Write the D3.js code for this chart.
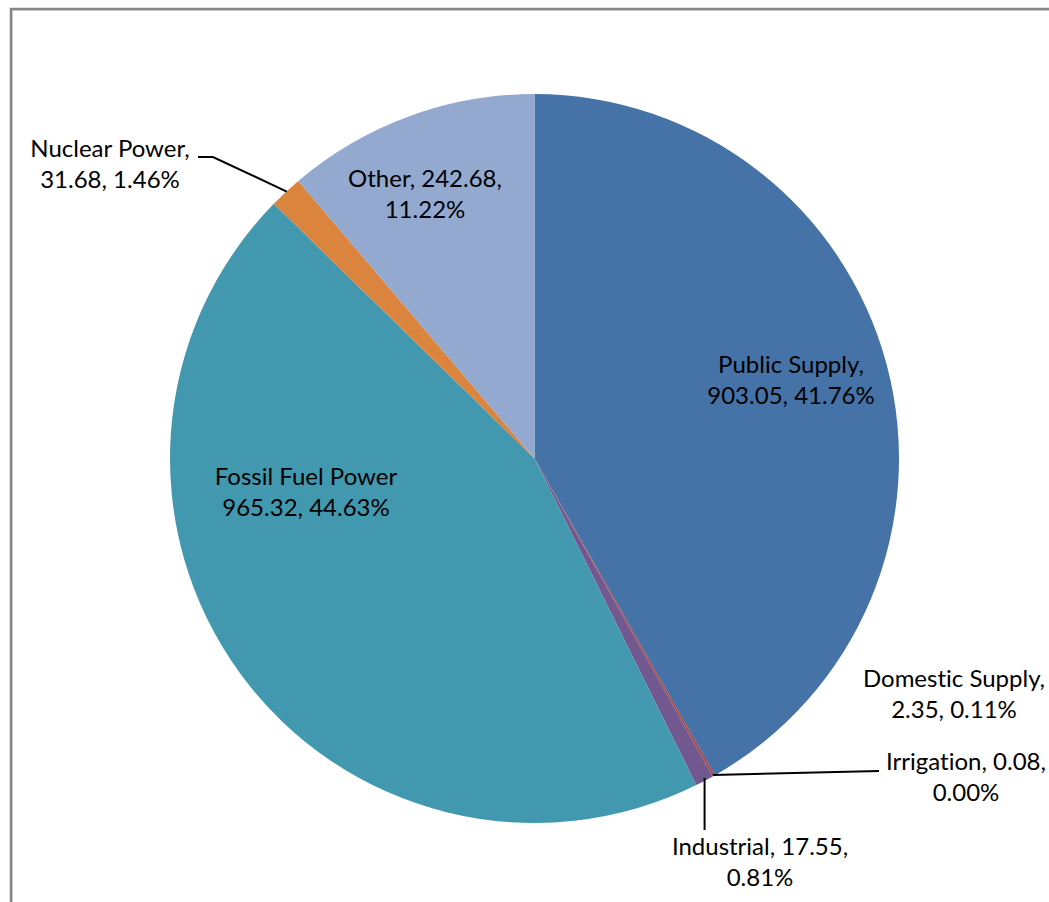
<!DOCTYPE html>
<html><head><meta charset="utf-8">
<script src="https://cdn.jsdelivr.net/npm/d3@7"></script>
<style>html,body{margin:0;padding:0;background:#fff;} text{font-variant-ligatures:none;}</style>
</head><body>
<svg id="chart" width="1049" height="902"></svg>
<script>
const categories = ["Public Supply","Domestic Supply","Irrigation","Industrial","Fossil Fuel Power","Nuclear Power","Other"];
const values = [903.05, 2.35, 0.08, 17.55, 965.32, 31.68, 242.68];
const percents = ["41.76%","0.11%","0.00%","0.81%","44.63%","1.46%","11.22%"];
const colors = ["#4572A7","#AA4643","#89A54E","#71588F","#4198AF","#DB843D","#93A9CF"];

// label layout: [line1, line2]
const labelLines = [
  ["Public Supply,", "903.05, 41.76%"],
  ["Domestic Supply,", "2.35, 0.11%"],
  ["Irrigation, 0.08,", "0.00%"],
  ["Industrial, 17.55,", "0.81%"],
  ["Fossil Fuel Power", "965.32, 44.63%"],
  ["Nuclear Power,", "31.68, 1.46%"],
  ["Other, 242.68,", "11.22%"]
];
const labelPos = [[791,373],[954,687],[966,770],[760,855],[306,485],[110,157],[425,187]];

const svg = d3.select("#chart");
// frame
svg.append("path").attr("d","M11,902 L11,9 L1049,9").attr("fill","none").attr("stroke","#868686").attr("stroke-width",2.5);
svg.append("path").attr("d","M12.5,902 L12.5,10.5 L1049,10.5").attr("fill","none").attr("stroke","#c8c8c8").attr("stroke-width",1);

const cx = 534.5, cy = 458.5, r = 364.5;
const data = categories.map((c,i)=>({name:c, value:values[i], i}));
const pie = d3.pie().value(d=>d.value).sort(null);
const arcs = pie(data);
const arc = d3.arc().innerRadius(0).outerRadius(r);
const g = svg.append("g").attr("transform",`translate(${cx},${cy})`);
g.selectAll("path.slice").data(arcs).enter().append("path")
  .attr("class","slice").attr("d",arc).attr("fill",d=>colors[d.data.i]);

// leader lines
function edgePoint(a){const m=(a.startAngle+a.endAngle)/2;return [cx+r*Math.sin(m), cy-r*Math.cos(m)];}
const lines = svg.append("g").attr("stroke","#000").attr("stroke-width",2).attr("fill","none");
// Irrigation
{const p=edgePoint(arcs[2]); lines.append("path").attr("d",`M${p[0]},${p[1]-1.5} L${labelPos[2][0]-87},${labelPos[2][1]+1}`);}
// Industrial
{const p=edgePoint(arcs[3]); lines.append("path").attr("d",`M${p[0]},${p[1]-3} L${p[0]},${labelPos[3][1]-25}`);}
// Nuclear
{const p=edgePoint(arcs[5]); lines.append("path").attr("d",`M${labelPos[5][0]+88},${labelPos[5][1]} L${labelPos[5][0]+103},${labelPos[5][1]} L${p[0]+1},${p[1]-0.5}`);}

const labels = svg.append("g").attr("font-family","Lato, 'Liberation Sans', sans-serif").attr("font-size",24).attr("fill","#000").attr("text-anchor","middle");
labelLines.forEach((ls,i)=>{
  const t = labels.append("text").attr("x",labelPos[i][0]).attr("y",labelPos[i][1]);
  ls.forEach((s,j)=>t.append("tspan").attr("x",labelPos[i][0]).attr("dy", j===0?0:31).text(s));
});
</script>
</body></html>
